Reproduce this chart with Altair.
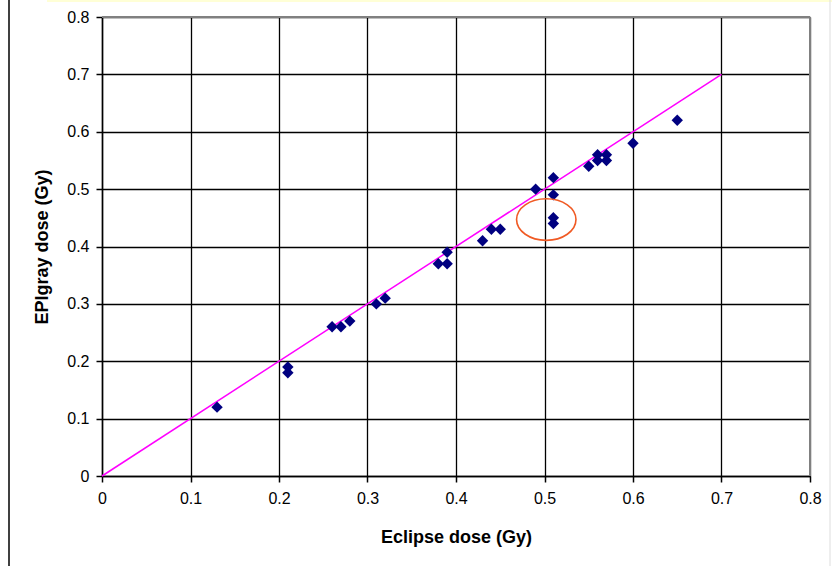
import altair as alt
import pandas as pd

# Eclipse dose (x) vs EPIgray dose (y), Gy
eclipse = [0.13, 0.21, 0.21, 0.26, 0.27, 0.28, 0.31, 0.32, 0.38, 0.39, 0.39,
           0.43, 0.44, 0.45, 0.49, 0.51, 0.51, 0.51, 0.51, 0.55, 0.56, 0.56,
           0.57, 0.57, 0.60, 0.65]
epigray = [0.12, 0.19, 0.18, 0.26, 0.26, 0.27, 0.30, 0.31, 0.37, 0.37, 0.39,
           0.41, 0.43, 0.43, 0.50, 0.52, 0.49, 0.45, 0.44, 0.54, 0.56, 0.55,
           0.56, 0.55, 0.58, 0.62]

# identity reference line
line_x = [0.0, 0.7]
line_y = [0.0, 0.7]

# highlighted outliers (ellipse centre)
circle_x = [0.502]
circle_y = [0.447]

ticks = [0, 0.1, 0.2, 0.3, 0.4, 0.5, 0.6, 0.7, 0.8]

pts = pd.DataFrame({"x": eclipse, "y": epigray})
ln = pd.DataFrame({"x": line_x, "y": line_y})
circ = pd.DataFrame({"x": circle_x, "y": circle_y})

FONT = "Liberation Sans"
W, H = 708, 459

xs = alt.Scale(domain=[0, 0.8], nice=False, zero=False)
ys = alt.Scale(domain=[0, 0.8], nice=False, zero=False)

xaxis = alt.Axis(values=ticks, format="~g", title="Eclipse dose (Gy)",
                 grid=True, gridColor="black", gridWidth=1.3, gridOpacity=1,
                 domainColor="black", domainWidth=1.5, tickColor="black",
                 tickSize=6, tickWidth=1.5, labelFont=FONT, labelFontSize=16,
                 labelColor="black", labelPadding=8, titleFont=FONT,
                 titleFontSize=18, titleFontWeight="bold", titleColor="black",
                 titlePadding=22, labelFlush=False)
yaxis = alt.Axis(values=ticks, format="~g", title="EPIgray dose (Gy)",
                 grid=True, gridColor="black", gridWidth=1.3, gridOpacity=1,
                 domainColor="black", domainWidth=1.5, tickColor="black",
                 tickSize=6, tickWidth=1.5, labelFont=FONT, labelFontSize=16,
                 labelColor="black", labelPadding=7, titleFont=FONT,
                 titleFontSize=18, titleFontWeight="bold", titleColor="black",
                 titlePadding=15, labelFlush=False)

base_pts = alt.Chart(pts).mark_point(
    shape="diamond", filled=True, color="#000080", size=130, opacity=1
).encode(
    x=alt.X("x:Q", scale=xs, axis=xaxis),
    y=alt.Y("y:Q", scale=ys, axis=yaxis),
)

ref_line = alt.Chart(ln).mark_line(color="#ff00ff", strokeWidth=1.5).encode(
    x=alt.X("x:Q", scale=xs), y=alt.Y("y:Q", scale=ys)
)

ellipse = alt.Chart(circ).mark_point(
    shape="M-1,0A1,0.7,0,1,1,1,0A1,0.7,0,1,1,-1,0Z",
    filled=False, color="#f05a24", strokeWidth=1.6, size=3530, opacity=1
).encode(x=alt.X("x:Q", scale=xs), y=alt.Y("y:Q", scale=ys))

dummy = pd.DataFrame({"k": [0]})
top_border = alt.Chart(dummy).mark_rule(color="#808080", strokeWidth=2).encode(
    x=alt.value(0), x2=alt.value(W), y=alt.value(0))
right_border = alt.Chart(dummy).mark_rule(color="#808080", strokeWidth=2).encode(
    x=alt.value(W), y=alt.value(0), y2=alt.value(H))
left_frame = alt.Chart(dummy).mark_rule(color="black", strokeWidth=1.5).encode(
    x=alt.value(-93), y=alt.value(-17), y2=alt.value(549))
right_frame = alt.Chart(dummy).mark_rule(color="#dddddd", strokeWidth=1).encode(
    x=alt.value(728), y=alt.value(-17), y2=alt.value(549))
top_band = alt.Chart(dummy).mark_rect(color="#ffffd6").encode(
    x=alt.value(-55), x2=alt.value(730), y=alt.value(-17), y2=alt.value(-15))

chart = alt.layer(
    top_band, left_frame, right_frame, ref_line, base_pts, ellipse,
    top_border, right_border
).properties(
    width=W, height=H,
    autosize=alt.AutoSizeParams(type="none"),
    padding={"left": 102, "top": 17, "right": 28, "bottom": 90},
    background="white",
).configure_view(stroke=None)

chart.save("out.html", embed_options={"renderer": "svg", "actions": False})
